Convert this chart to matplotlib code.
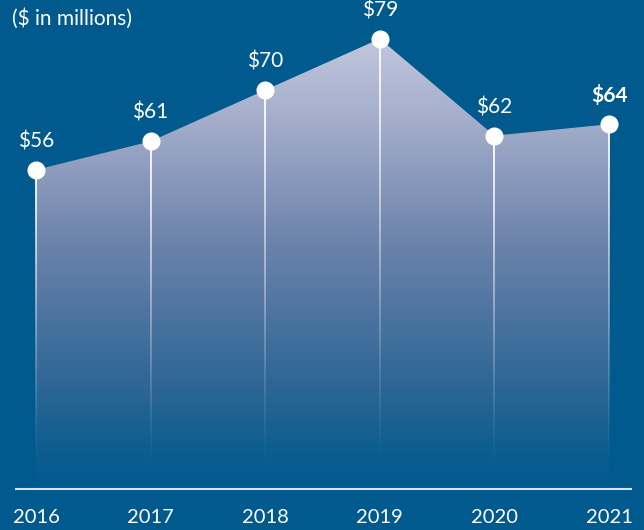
import numpy as np
import matplotlib
matplotlib.use("Agg")
import matplotlib.pyplot as plt
from matplotlib.colors import LinearSegmentedColormap

years = ["2016", "2017", "2018", "2019", "2020", "2021"]
values = [56, 61, 70, 79, 62, 64]
value_labels = ["$56", "$61", "$70", "$79", "$62", "$64"]
unit_label = "($ in millions)"

BG = "#005a8e"
plt.rcParams['font.family'] = ['Lato', 'DejaVu Sans']

fig = plt.figure(figsize=(6.44, 5.30), dpi=100, facecolor=BG)
ax = fig.add_axes([0, 0, 1, 1])
ax.set_facecolor(BG)
ax.set_xlim(-0.314, 5.305)
ax.set_ylim(-7.19, 85.8)
ax.axis("off")

x = np.arange(len(values))
y = np.array(values, dtype=float)

# gradient fill
cmap = LinearSegmentedColormap.from_list(
    "g",
    [(0.0, (0/255, 90/255, 142/255)),
     (0.08, (12/255, 93/255, 144/255)),
     (0.25, (50/255, 104/255, 150/255)),
     (0.55, (110/255, 132/255, 172/255)),
     (0.8, (162/255, 172/255, 202/255)),
     (1.0, (194/255, 200/255, 222/255))])
poly = ax.fill_between(x, 0, y, color="none", lw=0)
grad = np.linspace(0, 1, 256).reshape(-1, 1)
im = ax.imshow(grad, cmap=cmap, aspect="auto", origin="lower",
               extent=[x[0], x[-1], 0, 80], zorder=1, interpolation="bilinear")
im.set_clip_path(poly.get_paths()[0], transform=ax.transData)

# fading vertical lines (white with alpha gradient)
px = (ax.get_xlim()[1] - ax.get_xlim()[0]) / 644.0
alpha = (np.linspace(0, 1, 256) ** 1.3 * 0.95).reshape(-1, 1)
line_img = np.zeros((256, 1, 4))
line_img[..., :3] = 1.0
line_img[..., 3] = alpha
for xi, yi in zip(x, y):
    ax.imshow(line_img, aspect="auto", origin="lower",
              extent=[xi - px, xi + px, 3, yi], zorder=2, interpolation="bilinear")

ax.set_xlim(-0.314, 5.305)
ax.set_ylim(-7.19, 85.8)

# baseline
ax.plot([-0.183, 5.2], [0, 0], color="#d6e4f0", lw=1.5, zorder=3, solid_capstyle="butt")

# markers
ax.plot(x, y, "o", color="white", ms=12, mec="white", zorder=4)

# value labels
for i, (xi, yi, lab) in enumerate(zip(x, y, value_labels)):
    ax.annotate(lab, (xi, yi), xytext=(0, 20.5), textcoords="offset points",
                ha="center", va="center", color="white", fontsize=15,
                fontweight="bold" if i == len(x) - 1 else "normal", zorder=5)

# year labels
for xi, yr in zip(x, years):
    ax.text(xi, -5.0, yr, ha="center", va="center", color="white", fontsize=14.5)

fig.text(12 / 644, 1 - 19 / 530, unit_label, ha="left", va="center",
         color="white", fontsize=15)

fig.savefig("out.png", dpi=100, facecolor=BG)
